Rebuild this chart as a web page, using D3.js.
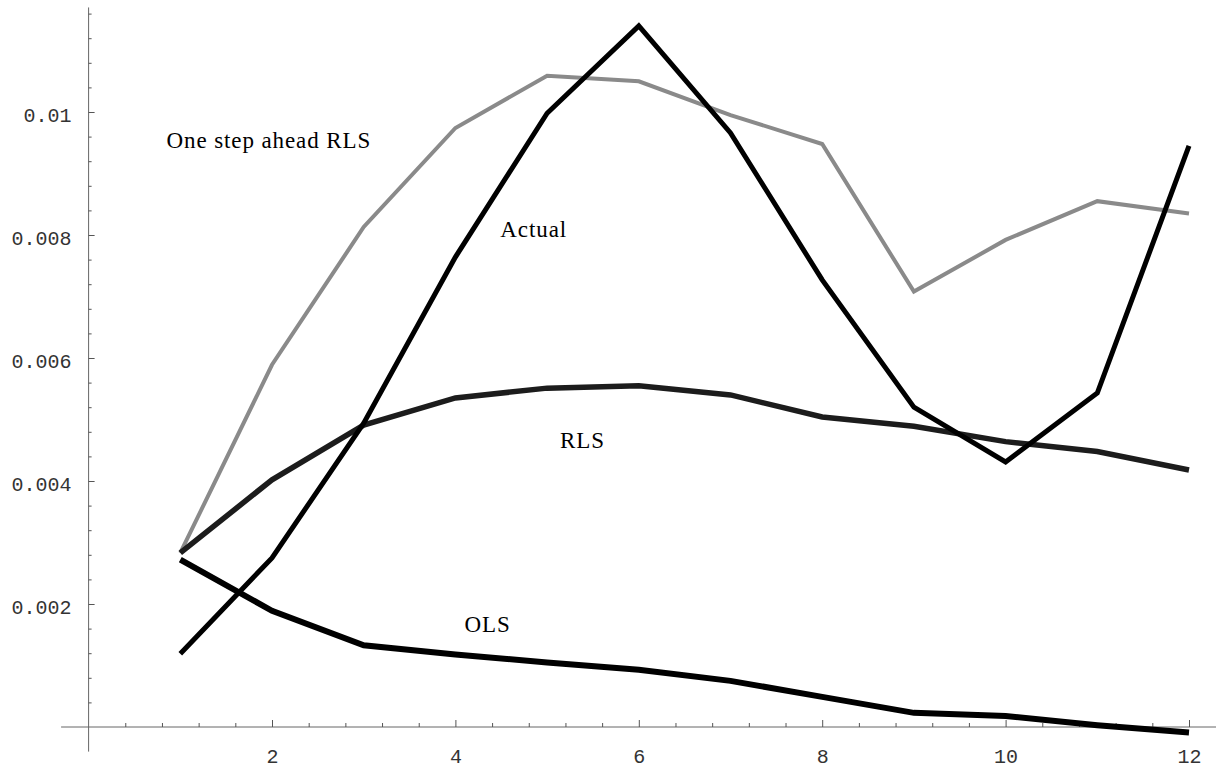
<!DOCTYPE html>
<meta charset="utf-8">
<title>RLS vs OLS forecasts</title>
<style>
body {
  margin: 0;
  background: #fff;
}
.tick text {
  font-family: "Liberation Mono", "Courier New", monospace;
  font-size: 20px;
  fill: #333;
}
.lbl {
  font-family: "Liberation Serif", "Times New Roman", serif;
  font-size: 23px;
  letter-spacing: 0.9px;
  fill: #000;
}
</style>
<body>
<script src="https://d3js.org/d3.v7.min.js"></script>
<script>
var w = 1216,
    h = 771;

var steps = d3.range(1, 13);
var actual = [0.00119, 0.00275, 0.00494, 0.00764, 0.00998, 0.0114, 0.00966, 0.00727, 0.0052, 0.00431, 0.00543, 0.00945];
var oneStep = [0.00283, 0.00589, 0.00813, 0.00974, 0.01059, 0.0105, 0.00995, 0.00948, 0.00708, 0.00792, 0.00855, 0.00835];
var rls = [0.00283, 0.00402, 0.00491, 0.00535, 0.00551, 0.00555, 0.0054, 0.00504, 0.00489, 0.00464, 0.00448, 0.00418];
var ols = [0.00272, 0.00189, 0.00133, 0.00118, 0.00105, 0.00093, 0.00075, 0.00049, 0.00023, 0.00018, 0.00003, -0.00009];

var xMajor = [2, 4, 6, 8, 10, 12];
var yMajor = [0.002, 0.004, 0.006, 0.008, 0.01];
var yLabels = ["0.002", "0.004", "0.006", "0.008", "0.01"];

var x = d3.scaleLinear().domain([2, 12]).range([272, 1189]);
var y = d3.scaleLinear().domain([0, 0.01]).range([727, 112]);

var svg = d3.select("body").append("svg")
    .attr("width", w)
    .attr("height", h);

// axes lines (Mathematica style, crossing at origin)
svg.append("line")
    .attr("x1", x(-0.3)).attr("x2", w)
    .attr("y1", y(0)).attr("y2", y(0))
    .attr("stroke", "#666").attr("stroke-width", 1);
svg.append("line")
    .attr("x1", x(0)).attr("x2", x(0))
    .attr("y1", y(-0.0004)).attr("y2", y(0.0117))
    .attr("stroke", "#666").attr("stroke-width", 1);

var xMinor = d3.range(1, 31).map(function(i) { return i * 0.4; })
    .filter(function(d) { return Math.abs(d / 2 - Math.round(d / 2)) > 1e-6; });
var yMinor = d3.range(1, 30).map(function(i) { return i * 0.0004; })
    .filter(function(d) { return Math.abs(d / 0.002 - Math.round(d / 0.002)) > 1e-6; });

svg.append("g")
    .attr("transform", "translate(0," + y(0) + ")")
    .call(d3.axisBottom(x).tickValues(xMinor).tickSize(-4).tickFormat(""))
    .call(function(g) { g.select(".domain").remove(); g.selectAll("line").attr("stroke", "#555"); });
svg.append("g")
    .attr("transform", "translate(0," + y(0) + ")")
    .call(d3.axisBottom(x).tickValues(xMajor).tickSize(-7).tickPadding(22).tickFormat(d3.format("d")))
    .call(function(g) { g.select(".domain").remove(); g.selectAll("line").attr("stroke", "#555"); });

svg.append("g")
    .attr("transform", "translate(" + x(0) + ",0)")
    .call(d3.axisLeft(y).tickValues(yMinor).tickSize(-3).tickFormat(""))
    .call(function(g) { g.select(".domain").remove(); g.selectAll("line").attr("stroke", "#555"); });
svg.append("g")
    .attr("transform", "translate(" + x(0) + ",0)")
    .call(d3.axisLeft(y).tickValues(yMajor).tickSize(-6).tickPadding(17)
      .tickFormat(function(d, i) { return yLabels[i]; }))
    .call(function(g) {
      g.select(".domain").remove();
      g.selectAll("line").attr("stroke", "#555");
      g.selectAll("text").attr("dy", "0.48em");
    });

var line = d3.line()
    .x(function(d, i) { return x(steps[i]); })
    .y(function(d) { return y(d); });

var series = [
  {values: oneStep, color: "#8a8a8a", width: 4},
  {values: rls, color: "#1c1c1c", width: 5.5},
  {values: ols, color: "#000", width: 6},
  {values: actual, color: "#000", width: 5}
];

svg.selectAll("path.series")
    .data(series)
  .enter().append("path")
    .attr("class", "series")
    .attr("d", function(d) { return line(d.values); })
    .attr("fill", "none")
    .attr("stroke", function(d) { return d.color; })
    .attr("stroke-width", function(d) { return d.width; })
    .attr("stroke-linejoin", "miter");

var labels = [
  {text: "One step ahead RLS", xv: 0.85, yv: 0.00942},
  {text: "Actual", xv: 4.49, yv: 0.00797},
  {text: "RLS", xv: 5.14, yv: 0.00454},
  {text: "OLS", xv: 4.1, yv: 0.00155}
];

svg.selectAll("text.lbl")
    .data(labels)
  .enter().append("text")
    .attr("class", "lbl")
    .attr("x", function(d) { return x(d.xv); })
    .attr("y", function(d) { return y(d.yv); })
    .text(function(d) { return d.text; });
</script>
